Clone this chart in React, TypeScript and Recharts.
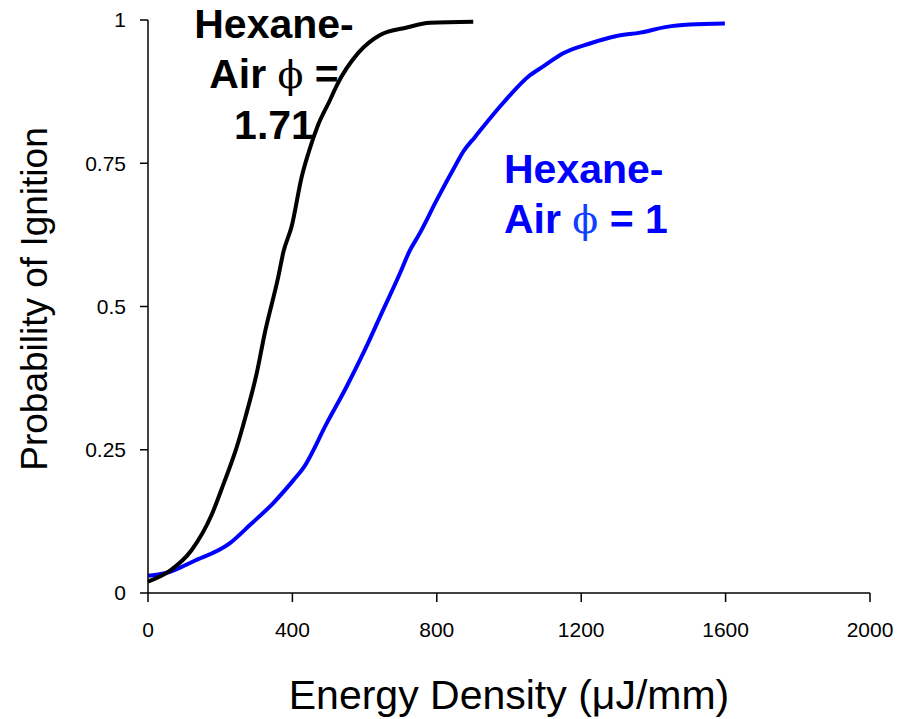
import React from "react";
import { LineChart, Line, XAxis, YAxis } from "recharts";

// Hexane-Air, phi = 1.71 (black)
const energyRich = [0, 61, 121, 176, 209, 246, 269, 301, 324, 361, 375, 398, 426, 444, 470, 504, 523, 583, 643, 717, 781, 901];
const probRich = [0.02, 0.039, 0.075, 0.136, 0.19, 0.255, 0.305, 0.383, 0.455, 0.552, 0.595, 0.64, 0.727, 0.767, 0.815, 0.86, 0.886, 0.943, 0.974, 0.987, 0.995, 0.997];

// Hexane-Air, phi = 1 (blue)
const energyStoich = [0, 61, 125, 227, 283, 347, 403, 430, 495, 550, 596, 647, 698, 724, 753, 800, 855, 873, 906, 975, 1003, 1053, 1095, 1150, 1224, 1298, 1363, 1437, 1501, 1598];
const probStoich = [0.03, 0.037, 0.055, 0.087, 0.119, 0.157, 0.197, 0.218, 0.296, 0.36, 0.418, 0.488, 0.558, 0.596, 0.628, 0.686, 0.75, 0.77, 0.796, 0.849, 0.869, 0.901, 0.919, 0.942, 0.959, 0.972, 0.978, 0.988, 0.992, 0.994];

const xTicks = [0, 400, 800, 1200, 1600, 2000];
const yTicks = [0, 0.25, 0.5, 0.75, 1];

const richData = energyRich.map((e, i) => ({ e, p: probRich[i] }));
const stoichData = energyStoich.map((e, i) => ({ e, p: probStoich[i] }));

const FONT = '"Liberation Sans", Arial, sans-serif';
const PHI_FONT = '"DejaVu Serif", "Liberation Serif", serif';

function Annotations() {
  return (
    <g fontFamily={FONT} fontWeight="bold" fontSize={41}>
      <g fill="#000" textAnchor="middle">
        <text x={274} y={38}>Hexane-</text>
        <text x={274} y={88}>
          Air <tspan fontFamily={PHI_FONT} fontWeight="normal" fontSize={38}>ϕ</tspan> =
        </text>
        <text x={274} y={139}>1.71</text>
      </g>
      <g fill="#0000ff">
        <text x={504} y={183}>Hexane-</text>
        <text x={504} y={233}>
          Air <tspan fontFamily={PHI_FONT} fontWeight="normal" fontSize={38} fill="#1040ff">ϕ</tspan> = 1
        </text>
      </g>
      <text x={509} y={709} textAnchor="middle" fontWeight="normal" fill="#000">
        Energy Density (μJ/mm)
      </text>
      <text
        x={0}
        y={0}
        transform="translate(47, 299) rotate(-90)"
        textAnchor="middle"
        fontWeight="normal"
        fontSize={37}
        fill="#000"
      >
        Probability of Ignition
      </text>
    </g>
  );
}

export default function App() {
  return (
    <div style={{ position: "absolute", left: 0, top: 0, background: "#fff" }}>
      <LineChart width={909} height={719} margin={{ top: 20, right: 39, bottom: 76, left: 48 }}>
        <XAxis
          dataKey="e"
          type="number"
          domain={[0, 2000]}
          ticks={xTicks}
          height={50}
          stroke="#000"
          strokeWidth={1.5}
          tickSize={9}
          tickMargin={20}
          tick={{ fill: "#000", fontSize: 21, fontFamily: FONT }}
          allowDuplicatedCategory={false}
        />
        <YAxis
          type="number"
          domain={[0, 1]}
          ticks={yTicks}
          width={100}
          stroke="#000"
          strokeWidth={1.5}
          tickSize={8}
          tickMargin={14}
          tick={{ fill: "#000", fontSize: 21, fontFamily: FONT }}
        />
        <Line
          data={stoichData}
          dataKey="p"
          type="monotone"
          stroke="#0000ff"
          strokeWidth={4}
          dot={false}
          isAnimationActive={false}
        />
        <Line
          data={richData}
          dataKey="p"
          type="monotone"
          stroke="#000"
          strokeWidth={4}
          dot={false}
          isAnimationActive={false}
        />
        <Annotations />
      </LineChart>
    </div>
  );
}
